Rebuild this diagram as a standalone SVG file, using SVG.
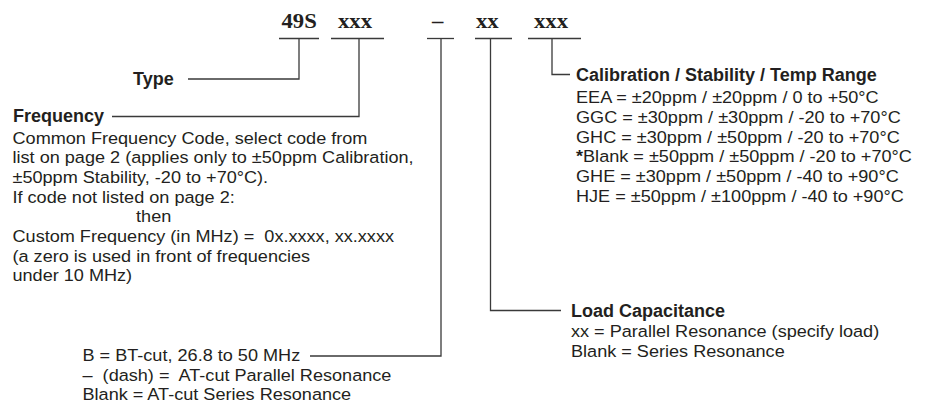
<svg xmlns="http://www.w3.org/2000/svg" width="932" height="417" viewBox="0 0 932 417">
<style>
.bg{fill:#ffffff}
.code{font-family:"Liberation Serif","Times New Roman",serif;font-weight:bold;font-size:21px;fill:#231f20}
.hd{font-family:"Liberation Sans",Arial,sans-serif;font-weight:bold;font-size:18px;fill:#231f20}
.tx{font-family:"Liberation Sans",Arial,sans-serif;font-size:17px;fill:#231f20}
.ast{font-weight:bold}
.ln{fill:none;stroke:#3a3a3a;stroke-width:1.3}
</style>
<rect class="bg" x="0" y="0" width="932" height="417"/>

<g id="part-code">
  <text class="code" transform="translate(281.5,27.5) scale(1.08,1)">49S</text>
  <text class="code" transform="translate(338,27.5) scale(1.08,1)">xxx</text>
  <text class="code" transform="translate(432,27.5) scale(1.08,1)">–</text>
  <text class="code" transform="translate(476,27.5) scale(1.08,1)">xx</text>
  <text class="code" transform="translate(534,27.5) scale(1.08,1)">xxx</text>
  <line class="ln" x1="279" y1="38.5" x2="319" y2="38.5"/>
  <line class="ln" x1="331" y1="38.5" x2="384" y2="38.5"/>
  <line class="ln" x1="427" y1="38.5" x2="454" y2="38.5"/>
  <line class="ln" x1="475" y1="38.5" x2="512" y2="38.5"/>
  <line class="ln" x1="528" y1="38.5" x2="581" y2="38.5"/>
</g>

<g id="connectors">
  <path class="ln" d="M299,38.5 V79 H188"/>
  <path class="ln" d="M359,38.5 V116.5 H112"/>
  <path class="ln" d="M441,38.5 V356 H310"/>
  <path class="ln" d="M490.5,38.5 V310.5 H561"/>
  <path class="ln" d="M552,38.5 V74.5 H570"/>
</g>

<g id="type">
  <text class="hd" x="133" y="85">Type</text>
</g>

<g id="frequency">
  <text class="hd" x="13" y="122">Frequency</text>
  <text class="tx" transform="translate(12.5,143.5) scale(1.065,1)" xml:space="preserve"><tspan x="0" dy="0">Common Frequency Code, select code from</tspan><tspan x="0" dy="19.7">list on page 2 (applies only to ±50ppm Calibration,</tspan><tspan x="0" dy="19.7">±50ppm Stability, -20 to +70°C).</tspan><tspan x="0" dy="19.7">If code not listed on page 2:</tspan><tspan x="116" dy="19.7">then</tspan><tspan x="0" dy="19.7">Custom Frequency (in MHz) =  0x.xxxx, xx.xxxx</tspan><tspan x="0" dy="19.7">(a zero is used in front of frequencies</tspan><tspan x="0" dy="19.7">under 10 MHz)</tspan></text>
</g>

<g id="cut">
  <text class="tx" transform="translate(82.5,361) scale(1.065,1)" xml:space="preserve"><tspan x="0" dy="0">B = BT-cut, 26.8 to 50 MHz</tspan><tspan x="0" dy="19.7">–  (dash) =  AT-cut Parallel Resonance</tspan><tspan x="0" dy="19.7">Blank = AT-cut Series Resonance</tspan></text>
</g>

<g id="load">
  <text class="hd" x="571" y="317">Load Capacitance</text>
  <text class="tx" transform="translate(571,337) scale(1.065,1)"><tspan x="0" dy="0">xx = Parallel Resonance (specify load)</tspan><tspan x="0" dy="19.7">Blank = Series Resonance</tspan></text>
</g>

<g id="calibration">
  <text class="hd" x="576" y="81">Calibration / Stability / Temp Range</text>
  <text class="tx" transform="translate(576,103) scale(1.065,1)"><tspan x="0" dy="0">EEA = ±20ppm / ±20ppm / 0 to +50°C</tspan><tspan x="0" dy="19.8">GGC = ±30ppm / ±30ppm / -20 to +70°C</tspan><tspan x="0" dy="19.8">GHC = ±30ppm / ±50ppm / -20 to +70°C</tspan><tspan x="0" dy="19.8"><tspan class="ast">*</tspan>Blank = ±50ppm / ±50ppm / -20 to +70°C</tspan><tspan x="0" dy="19.8">GHE = ±30ppm / ±50ppm / -40 to +90°C</tspan><tspan x="0" dy="19.8">HJE = ±50ppm / ±100ppm / -40 to +90°C</tspan></text>
</g>
</svg>
